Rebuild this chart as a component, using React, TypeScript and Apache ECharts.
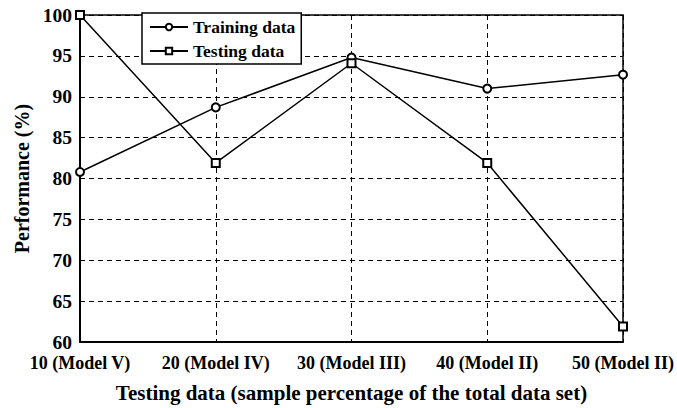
import React, { useEffect, useRef } from "react";
import * as echarts from "echarts";

const categories = ["10 (Model V)", "20 (Model IV)", "30 (Model III)", "40 (Model II)", "50 (Model II)"];
const trainingData = [80.8, 88.7, 94.8, 91.0, 92.7];
const testingData = [100, 81.9, 94.1, 81.9, 61.9];
const yTicks = { min: 60, max: 100, interval: 5 };

const FONT = "'Liberation Serif', 'Times New Roman', serif";

export default function App() {
  const ref = useRef<HTMLDivElement>(null);
  useEffect(() => {
    if (!ref.current) return;
    const chart = echarts.init(ref.current, null, { renderer: "svg" });
    const dashed = { show: true, lineStyle: { color: "#000", type: [5, 4] as any, width: 1 } };
    chart.setOption({
      animation: false,
      backgroundColor: "#fff",
      grid: { left: 80, right: 46, top: 15, bottom: 65, show: true, borderColor: "#000", borderWidth: 1.5, backgroundColor: "transparent" },
      legend: {
        left: 142,
        top: 13,
        orient: "vertical",
        backgroundColor: "#fff",
        borderColor: "#000",
        borderWidth: 1.5,
        borderRadius: 0,
        padding: [5, 6, 4, 7],
        itemGap: 6,
        itemWidth: 38,
        itemHeight: 8,
        textStyle: { fontFamily: FONT, fontWeight: "bold", fontSize: 17.5, color: "#000" },
        data: ["Training data", "Testing data"],
      },
      xAxis: {
        type: "category",
        data: categories,
        boundaryGap: false,
        axisLine: { lineStyle: { color: "#000", width: 2 } },
        axisTick: { show: false },
        axisLabel: { color: "#000", fontFamily: FONT, fontWeight: "bold", fontSize: 18, margin: 12, interval: 0 },
        splitLine: dashed,
        name: "Testing data (sample percentage of the total data set)",
        nameLocation: "middle",
        nameGap: 40,
        nameTextStyle: { color: "#000", fontFamily: FONT, fontWeight: "bold", fontSize: 21 },
      },
      yAxis: {
        type: "value",
        min: yTicks.min,
        max: yTicks.max,
        interval: yTicks.interval,
        axisLine: { show: true, lineStyle: { color: "#000", width: 2 } },
        axisTick: { show: false },
        axisLabel: { color: "#000", fontFamily: FONT, fontWeight: "bold", fontSize: 19.5, margin: 8 },
        splitLine: dashed,
        name: "Performance (%)",
        nameLocation: "middle",
        nameGap: 48,
        nameTextStyle: { color: "#000", fontFamily: FONT, fontWeight: "bold", fontSize: 20 },
      },
      series: [
        {
          name: "Training data",
          type: "line",
          data: trainingData,
          symbol: "emptyCircle",
          symbolSize: 8,
          lineStyle: { color: "#000", width: 1.5 },
          itemStyle: { color: "#000", borderColor: "#000", borderWidth: 1.5 },
        },
        {
          name: "Testing data",
          type: "line",
          data: testingData,
          symbol: "emptyRect",
          symbolSize: 8,
          lineStyle: { color: "#000", width: 1.5 },
          itemStyle: { color: "#000", borderColor: "#000", borderWidth: 1.5 },
        },
      ],
    });
    return () => chart.dispose();
  }, []);
  return <div ref={ref} style={{ width: 677, height: 408, position: "absolute", left: 0, top: 0 }} />;
}
